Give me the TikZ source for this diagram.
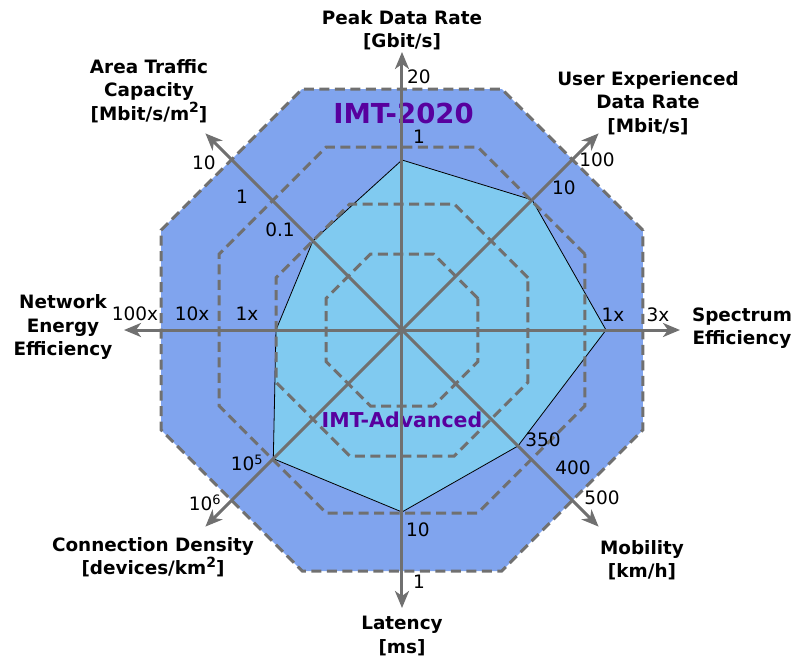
\documentclass[tikz,border=0pt]{standalone}
\usepackage{fontspec}
\setmainfont{DejaVu Sans}
\usepackage{tikz}
\usetikzlibrary{positioning,calc,shapes,arrows.meta}
\definecolor{imtouter}{RGB}{128,164,238}
\definecolor{imtinner}{RGB}{128,202,240}
\definecolor{imtpurple}{RGB}{88,0,158}
\definecolor{axisgray}{RGB}{112,112,112}
\newcommand*\axislen{278}
\newcommand*\outerapo{241}
\newcommand*\sqtwo{\raisebox{0.4em}{\fontsize{14}{14}\selectfont 2}}
\tikzstyle{title}=[font=\bfseries\fontsize{18.4}{23.5}\selectfont,align=center,inner sep=0pt]
\tikzstyle{val}=[font=\fontsize{18.5}{20}\selectfont,inner sep=0pt]
\tikzstyle{ring}=[draw=axisgray,line width=3pt,dash pattern=on 10pt off 5.5pt]
\tikzstyle{arr}=[-{Stealth[length=17pt,width=14pt,inset=5pt]},draw=axisgray,line width=3pt]
\tikzstyle{imt}=[text=imtpurple,font=\bfseries,inner sep=0pt]

\begin{document}
\begin{tikzpicture}[x=1pt,y=1pt]
      \useasboundingbox (-402,-329) rectangle (393,330);
      \coordinate (O) at (0,0);
      % IMT-2020 area and IMT-Advanced values
      \fill[imtouter] (22.5:\outerapo/0.92388) \foreach \k in {1,...,7} {-- (22.5+45*\k:\outerapo/0.92388)} -- cycle;
      \filldraw[fill=imtinner,draw=black,line width=0.8pt] (90:170) -- (45:184) -- (0:204) -- (-45:164) -- (-90:182) -- (-135:182) -- (180:126) -- (135:126) -- cycle;
      \foreach \a in {76,126,183,241}
        \draw[ring] (22.5:\a/0.92388) \foreach \k in {1,...,7} {-- (22.5+45*\k:\a/0.92388)} -- cycle;
      \node (A) [imt, font=\bfseries\fontsize{27.5}{30}\selectfont] at (1.5,217) {IMT-2020};
      \node (B) [imt, font=\bfseries\fontsize{20.5}{24}\selectfont] at (0,-90) {IMT-Advanced};
      % axes
      \foreach \ang/\nm in {90/pk,45/ue,0/se,-45/mo,-90/la,-135/cd,180/ne,135/at} {
        \coordinate (\nm) at (\ang:\axislen);
        \draw[arr] (O) -- (\nm);
      }
      % axis titles
      \node (T1) [title] at (0,300) {Peak Data Rate\\{[}Gbit/s{]}};
      \node (T2) [title, align=center] at (246,227) {User Experienced\\Data Rate\\{[}Mbit/s{]}};
      \node (T3) [title] at (340,2) {Spectrum\\Efficiency};
      \node (T4) [title] at (240,-230) {Mobility\\{[}km/h{]}};
      \node (T5) [title] at (0,-306) {Latency\\{[}ms{]}};
      \node (T6) [title] at (-249,-227) {Connection Density\\{[}devices/km\sqtwo{]}};
      \node (T7) [title] at (-339,3) {Network\\Energy\\Efficiency};
      \node (T8) [title] at (-253,239) {Area Traffic\\Capacity\\{[}Mbit/s/m\sqtwo{]}};
      % axis values
      \node (pk1) [val] at (17,253) {20};
      \node (pk2) [val] at (17,193) {1};
      \node (ue1) [val] at (195,170) {100};
      \node (ue2) [val] at (162,142) {10};
      \node (se1) [val] at (211,15) {1x};
      \node (se2) [val] at (256,15) {3x};
      \node (mo1) [val] at (141,-110) {350};
      \node (mo2) [val] at (171,-138) {400};
      \node (mo3) [val] at (200,-168) {500};
      \node (la1) [val] at (16,-200) {10};
      \node (la2) [val] at (17,-252) {1};
      \node (cd1) [val] at (-155,-133) {10\textsuperscript{5}};
      \node (cd2) [val] at (-197,-173) {10\textsuperscript{6}};
      \node (ne1) [val] at (-267,16) {100x};
      \node (ne2) [val] at (-210,16) {10x};
      \node (ne3) [val] at (-155,16) {1x};
      \node (at1) [val] at (-198,167) {10};
      \node (at2) [val] at (-160,133) {1};
      \node (at3) [val] at (-122,100) {0.1};
    \end{tikzpicture}
\end{document}
